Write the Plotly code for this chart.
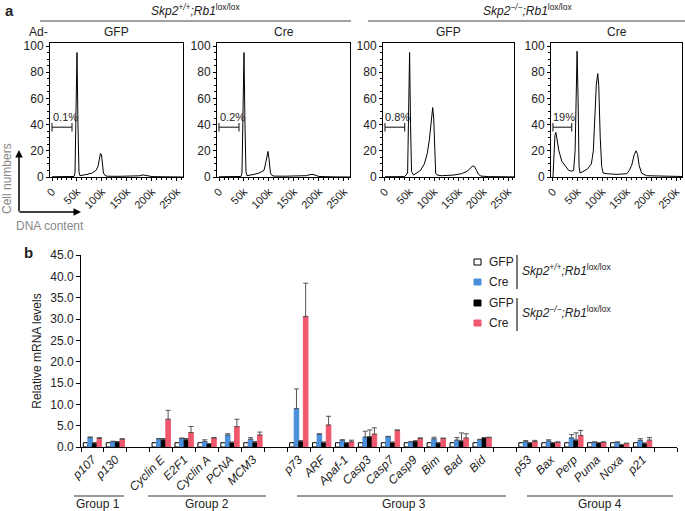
import plotly.graph_objects as go

W, H = 685, 511
def px(x): return x / W
def py(y): return 1 - y / H

FONT = "Liberation Sans, Arial, Helvetica, sans-serif"

# ---------------- Panel a data (flow cytometry histograms) ----------------
hist_titles = ["GFP", "Cre", "GFP", "Cre"]
gate_labels = ["0.1%", "0.2%", "0.8%", "19%"]
gate_x = [[0, 40000], [0, 40000], [0, 40000], [0, 38000]]
gate_y = 38

h1_x = [0, 10, 30, 44, 46, 48, 50, 52, 54, 56, 60, 70, 80, 88, 92, 95, 97, 99, 101, 103, 106, 110, 130, 160, 175, 182, 187, 192, 200, 230, 262]
h1_y = [0.2, 0.3, 0.3, 0.4, 3, 45, 95, 40, 4, 1, 1.2, 2, 3, 5, 8, 14, 18, 17, 10, 3, 1.2, 0.6, 0.5, 0.5, 0.9, 1.6, 1.5, 0.9, 0.3, 0.1, 0]
h2_x = [0, 10, 30, 44, 46, 48, 50, 52, 54, 56, 60, 70, 80, 86, 90, 93, 96, 98, 100, 103, 106, 110, 130, 160, 175, 182, 188, 194, 200, 230, 262]
h2_y = [0.2, 0.3, 0.3, 0.4, 3, 45, 95, 40, 4, 1, 1.2, 2, 3, 4, 5, 10, 17, 19.5, 14, 3, 1.2, 0.7, 0.6, 0.6, 1.0, 1.8, 2.0, 1.2, 0.4, 0.1, 0]
h3_x = [0, 20, 40, 46, 48, 50, 52, 54, 58, 65, 72, 80, 86, 90, 94, 97, 99, 101, 103, 106, 115, 140, 155, 165, 172, 178, 182, 186, 190, 195, 210, 262]
h3_y = [0.2, 0.2, 0.3, 3, 45, 95, 40, 4, 1.5, 3, 5, 10, 18, 28, 42, 53, 45, 15, 3, 1.5, 1, 1.5, 2.5, 4, 6, 8.5, 8, 5, 2, 0.7, 0.3, 0.1]
h4_x = [0, 2, 4, 6, 8, 12, 18, 25, 32, 38, 42, 45, 47, 49, 51, 53, 55, 60, 70, 78, 82, 85, 88, 91, 93, 96, 99, 102, 110, 130, 150, 155, 160, 165, 169, 172, 175, 180, 190, 210, 240, 262]
h4_y = [0, 20, 32, 34, 30, 20, 12, 8, 5, 4.5, 5, 20, 70, 96, 60, 8, 3, 4, 6, 10, 20, 45, 70, 79, 70, 30, 8, 3, 2.5, 2, 2.5, 5, 9, 17, 20, 17, 9, 3, 1, 0.8, 0.6, 0.4]
hist_x = [h1_x, h2_x, h3_x, h4_x]
hist_y = [h1_y, h2_y, h3_y, h4_y]
hist_tickvals = [0, 50000, 100000, 150000, 200000, 250000]
hist_ticktext = ["0", "50k", "100k", "150k", "200k", "250k"]

# ---------------- Panel b data (qPCR) ----------------
genes = ["p107", "p130", "Cyclin E", "E2F1", "Cyclin A", "PCNA", "MCM3",
         "p73", "ARF", "Apaf-1", "Casp3", "Casp7", "Casp9", "Bim", "Bad", "Bid",
         "p53", "Bax", "Perp", "Puma", "Noxa", "p21"]
group_names = ["Group 1", "Group 2", "Group 3", "Group 4"]
group_sizes = [2, 5, 9, 6]

wt_gfp = [1.0, 1.0, 1.0, 1.0, 1.0, 1.0, 1.0, 1.0, 1.0, 1.0, 1.0, 1.0, 1.0, 1.0, 1.0, 1.0, 1.0, 1.0, 1.0, 1.0, 1.0, 1.0]
wt_cre = [2.2, 1.25, 1.9, 2.0, 1.3, 2.8, 1.8, 9.0, 3.0, 1.6, 2.3, 2.4, 1.2, 1.9, 1.6, 1.7, 1.25, 1.4, 2.1, 1.1, 1.1, 1.55]
wt_cre_sd = [0.15, 0.1, 0.1, 0.1, 0.4, 0.3, 0.4, 4.6, 0.1, 0.1, 1.4, 0.1, 0.1, 0.4, 0.6, 0.1, 0.25, 0.3, 0.8, 0.1, 0.1, 0.4]
ko_gfp = [1.0, 1.25, 1.7, 1.7, 0.8, 1.1, 1.1, 1.4, 1.1, 1.0, 2.4, 1.1, 1.4, 1.0, 1.4, 2.2, 1.0, 1.0, 1.6, 1.0, 0.6, 0.9]
ko_gfp_sd = [0, 0, 0.3, 0.3, 0, 0, 0.2, 0, 0, 0, 1.6, 0, 0, 0, 1.9, 0, 0, 0, 1.7, 0, 0, 0]
ko_cre = [2.0, 1.8, 6.5, 3.4, 2.1, 4.8, 2.8, 30.6, 5.15, 1.2, 3.0, 3.9, 2.0, 2.0, 2.1, 2.2, 1.25, 1.1, 2.7, 1.1, 0.8, 1.6]
ko_cre_sd = [0.2, 0.15, 2.1, 1.4, 0.1, 1.7, 0.7, 7.8, 2.05, 0.4, 1.5, 0.1, 0.15, 0.1, 1.0, 0.1, 0.3, 0.1, 1.2, 0.1, 0.1, 0.6]

BLUE = "#4A8FDB"
RED = "#F0576C"
ERR = "#555555"

# category slot positions, leaving one empty slot between groups
positions = []
slot = 0
for gi, n in enumerate(group_sizes):
    for k in range(n):
        positions.append(slot)
        slot += 1
    slot += 1
n_slots = slot - 1

fig = go.Figure()

# ---------------- Panel a traces & axes ----------------
hist_dom_x = [(50, 183), (217, 350), (383, 514), (551, 682)]
for i in range(4):
    ax = "" if i == 0 else str(i + 1)
    fig.add_trace(go.Scatter(
        x=[v * 1000 for v in hist_x[i]], y=hist_y[i], mode="lines",
        line=dict(color="black", width=1), showlegend=False, hoverinfo="skip",
        xaxis="x" + ax, yaxis="y" + ax))
    fig.add_trace(go.Scatter(
        x=gate_x[i], y=[gate_y, gate_y], mode="lines+markers",
        line=dict(color="#333333", width=1.2),
        marker=dict(symbol="line-ns-open", size=6, line=dict(color="#333333", width=1.2)),
        showlegend=False, hoverinfo="skip", xaxis="x" + ax, yaxis="y" + ax))
    axis_common = dict(showline=True, linecolor="black", linewidth=1, mirror=True,
                       ticks="outside", ticklen=3, tickcolor="black",
                       showgrid=False, zeroline=False, automargin=False)
    fig.layout["xaxis" + ax] = dict(
        axis_common, domain=[px(hist_dom_x[i][0]), px(hist_dom_x[i][1])],
        range=[-4000, 262144], tickmode="array", tickvals=hist_tickvals,
        ticktext=hist_ticktext, tickangle=-45, anchor="y" + ax,
        tickfont=dict(family=FONT, size=11, color="#222"),
        minor=dict(ticks="outside", ticklen=2, dtick=10000, tick0=0, tickcolor="black"))
    fig.layout["yaxis" + ax] = dict(
        axis_common, domain=[py(177), py(43)], range=[0, 102.3],
        tickmode="array", tickvals=[0, 20, 40, 60, 80, 100], anchor="x" + ax,
        tickfont=dict(family=FONT, size=12, color="#222"),
        minor=dict(ticks="outside", ticklen=2, dtick=5, tick0=0, tickcolor="black"))

# ---------------- Panel b traces ----------------
series = [
    ("GFP", wt_gfp, None, "white", "black"),
    ("Cre", wt_cre, wt_cre_sd, BLUE, BLUE),
    ("GFP", ko_gfp, ko_gfp_sd, "black", "black"),
    ("Cre", ko_cre, ko_cre_sd, RED, RED),
]
for name, vals, sd, fill, edge in series:
    err = None
    if sd is not None:
        err = dict(type="data", array=sd, arrayminus=[0] * len(sd), symmetric=False,
                   color=ERR, thickness=1, width=2.5)
    fig.add_trace(go.Bar(
        x=positions, y=vals, name=name, marker=dict(color=fill, line=dict(color=edge, width=1)),
        error_y=err, showlegend=False, xaxis="x5", yaxis="y5"))

fig.update_layout(
    xaxis5=dict(domain=[px(81), px(677)], range=[-0.5, n_slots + 0.5], anchor="y5",
                tickmode="array", tickvals=positions, automargin=False,
                ticktext=["<i>%s</i>" % g for g in genes], tickangle=-45,
                ticks="", showline=True, linecolor="black", linewidth=1,
                showgrid=False, zeroline=False,
                tickfont=dict(family=FONT, size=12, color="#222"),
                minor=dict(ticks="outside", ticklen=4, tickmode="linear", tick0=-0.5,
                           dtick=1, tickcolor="black", tickwidth=1)),
    yaxis5=dict(domain=[py(447), py(255)], range=[0, 45], anchor="x5", automargin=False,
                tickmode="linear", tick0=0, dtick=5, tickformat=".1f",
                ticks="outside", ticklen=4, tickcolor="black",
                showline=True, linecolor="black", linewidth=1,
                showgrid=False, zeroline=False,
                tickfont=dict(family=FONT, size=12, color="#222"),
                title=dict(text="Relative mRNA levels", standoff=6,
                           font=dict(family=FONT, size=12, color="#222"))),
    barmode="group", bargap=0.2, bargroupgap=0,
)

annotations = []
shapes = []
def text(x, y, t, size=12, xanchor="center", yanchor="middle", color="#222", angle=0):
    annotations.append(dict(x=px(x), y=py(y), xref="paper", yref="paper", text=t,
                            showarrow=False, xanchor=xanchor, yanchor=yanchor, textangle=angle,
                            font=dict(family=FONT, size=size, color=color)))
def line(x0, y0, x1, y1, color="#333", width=1):
    shapes.append(dict(type="line", xref="paper", yref="paper", x0=px(x0), y0=py(y0),
                       x1=px(x1), y1=py(y1), line=dict(color=color, width=width)))

# panel letters
text(3, 10, "<b>a</b>", size=15, xanchor="left")
text(22, 253, "<b>b</b>", size=15, xanchor="left")

# genotype headers
geno_wt = "<i>Skp2</i><sup><i>+/+</i></sup><i>;Rb1</i><sup>lox/lox</sup>"
geno_ko = "<i>Skp2</i><sup><i>\u2212/\u2212</i></sup><i>;Rb1</i><sup>lox/lox</sup>"
text(196, 10, geno_wt, size=12)
text(527, 10, geno_ko, size=12)
line(40, 21, 351, 21, color="#444", width=1)
line(368, 21, 685, 21, color="#444", width=1)
text(38, 32, "Ad-", size=12)
for i in range(4):
    cx = (hist_dom_x[i][0] + hist_dom_x[i][1]) / 2
    text(cx, 32, hist_titles[i], size=12)
    ax = "" if i == 0 else str(i + 1)
    annotations.append(dict(x=-3000, y=46, xref="x" + ax, yref="y" + ax, text=gate_labels[i],
                            showarrow=False, xanchor="left", yanchor="middle",
                            font=dict(family=FONT, size=11, color="#222")))

# axis-key arrows
annotations.append(dict(x=px(19), y=py(150), xref="paper", yref="paper",
                        axref="pixel", ayref="pixel", ax=0, ay=63, text="", showarrow=True,
                        arrowhead=2, arrowsize=1, arrowwidth=1.5, arrowcolor="black"))
annotations.append(dict(x=px(81), y=py(212), xref="paper", yref="paper",
                        axref="pixel", ayref="pixel", ax=-63, ay=0, text="", showarrow=True,
                        arrowhead=2, arrowsize=1, arrowwidth=1.5, arrowcolor="black"))
text(7, 179, "Cell numbers", size=12, color="#888", angle=-90)
text(50, 226, "DNA content", size=12, color="#888")

# group labels
group_lines = [(74, 124), (148, 266), (297, 506), (527, 673)]
group_text_x = [98, 207, 404, 600]
for gname, (x0, x1), tx in zip(group_names, group_lines, group_text_x):
    line(x0, 496, x1, 496, color="#333", width=1)
    text(tx, 504, gname, size=12)

# custom legend
leg_rows = [(262, "white", "black", "GFP"), (282, BLUE, BLUE, "Cre"),
            (303, "black", "black", "GFP"), (323, RED, RED, "Cre")]
for y, fill, edge, lab in leg_rows:
    shapes.append(dict(type="rect", xref="paper", yref="paper", x0=px(474), x1=px(481),
                       y0=py(y + 3), y1=py(y - 3), fillcolor=fill, line=dict(color=edge, width=1)))
    text(487, y, lab, size=12, xanchor="left")
line(517, 255, 517, 289, color="#222", width=1.2)
line(517, 298, 517, 331, color="#222", width=1.2)
text(520, 270, geno_wt, size=12, xanchor="left")
text(520, 312, geno_ko, size=12, xanchor="left")

fig.update_layout(
    width=W, height=H, margin=dict(l=0, r=0, t=0, b=0),
    paper_bgcolor="white", plot_bgcolor="white",
    annotations=annotations, shapes=shapes, showlegend=False,
    font=dict(family=FONT, size=12, color="#222"),
)

fig.write_html("out.html", config={"displayModeBar": False},
               post_script="document.body.style.margin='0px';document.body.style.overflow='hidden';")
